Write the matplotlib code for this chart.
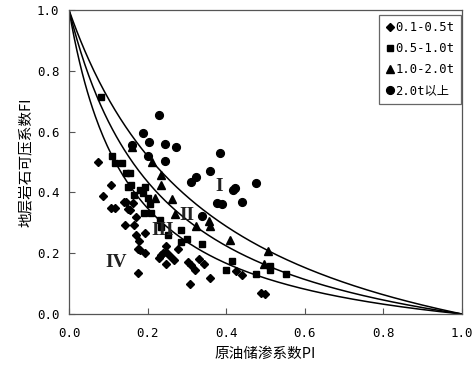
import matplotlib.pyplot as plt
import numpy as np

plt.rcParams['font.family'] = ['Noto Sans CJK SC', 'DejaVu Sans']
MONO = ['DejaVu Sans Mono', 'Noto Sans CJK SC']

# 0.1-0.5t
dia_x = [0.075, 0.106, 0.087, 0.108, 0.118, 0.139, 0.146, 0.150, 0.154, 0.163,
         0.170, 0.142, 0.165, 0.171, 0.193, 0.178, 0.176, 0.180, 0.193, 0.176,
         0.235, 0.246, 0.248, 0.246, 0.256, 0.266, 0.277, 0.303, 0.311, 0.320,
         0.309, 0.332, 0.343, 0.360, 0.424, 0.439, 0.489, 0.498, 0.228, 0.240]
dia_y = [0.499, 0.424, 0.389, 0.349, 0.349, 0.367, 0.369, 0.347, 0.342, 0.364,
         0.320, 0.292, 0.292, 0.259, 0.265, 0.241, 0.215, 0.210, 0.201, 0.135,
         0.193, 0.223, 0.204, 0.166, 0.190, 0.177, 0.215, 0.171, 0.160, 0.144,
         0.100, 0.182, 0.164, 0.119, 0.142, 0.127, 0.070, 0.065, 0.185, 0.200]

# 0.5-1.0t
sq_x = [0.082, 0.109, 0.116, 0.135, 0.144, 0.154, 0.150, 0.158, 0.165, 0.180,
        0.193, 0.188, 0.201, 0.205, 0.190, 0.209, 0.231, 0.235, 0.252, 0.286,
        0.286, 0.301, 0.339, 0.400, 0.416, 0.477, 0.511, 0.511, 0.551]
sq_y = [0.715, 0.520, 0.498, 0.498, 0.465, 0.465, 0.419, 0.424, 0.391, 0.408,
        0.419, 0.397, 0.380, 0.362, 0.331, 0.331, 0.309, 0.287, 0.259, 0.276,
        0.237, 0.248, 0.230, 0.146, 0.175, 0.131, 0.158, 0.144, 0.131]

# 1.0-2.0t
tri_x = [0.161, 0.211, 0.235, 0.235, 0.263, 0.270, 0.324, 0.356, 0.359, 0.409,
         0.506, 0.497, 0.218]
tri_y = [0.550, 0.499, 0.457, 0.426, 0.378, 0.329, 0.289, 0.307, 0.289, 0.245,
         0.208, 0.166, 0.380]

# 2.0t以上
cir_x = [0.228, 0.188, 0.204, 0.244, 0.273, 0.161, 0.201, 0.244, 0.383, 0.360,
         0.310, 0.324, 0.417, 0.422, 0.476, 0.377, 0.390, 0.439, 0.338]
cir_y = [0.653, 0.597, 0.565, 0.559, 0.548, 0.555, 0.520, 0.504, 0.531, 0.469,
         0.434, 0.451, 0.408, 0.413, 0.432, 0.366, 0.362, 0.368, 0.323]

# boundary curves FI = (1 - PI) / (1 + k * PI)
curve_k = [2.7, 4.2, 6.5]

zones = ['I', 'II', 'III', 'IV']
zone_x = [0.382, 0.299, 0.239, 0.120]
zone_y = [0.419, 0.325, 0.276, 0.168]

fig = plt.figure(figsize=(4.74, 3.65), dpi=100)
ax = fig.add_axes([0.1456, 0.1397, 0.8291, 0.8329])

pi = np.linspace(0, 1, 300)
for k in curve_k:
    ax.plot(pi, (1 - pi) / (1 + k * pi), color='black', lw=1.1)

ax.plot(dia_x, dia_y, 'D', color='black', ms=3.7, ls='none', label='0.1-0.5t')
ax.plot(sq_x, sq_y, 's', color='black', ms=4.6, ls='none', label='0.5-1.0t')
ax.plot(tri_x, tri_y, '^', color='black', ms=5.4, ls='none', label='1.0-2.0t')
ax.plot(cir_x, cir_y, 'o', color='black', ms=5.6, ls='none', label='2.0t以上')

for z, x, y in zip(zones, zone_x, zone_y):
    ax.text(x, y, z, family='Liberation Serif', fontsize=14, fontweight='bold',
            ha='center', va='center', color='#222222')

ax.set_xlim(0, 1)
ax.set_ylim(0, 1)
ax.set_xticks(np.arange(0, 1.01, 0.2))
ax.set_yticks(np.arange(0, 1.01, 0.2))
ax.xaxis.set_major_formatter(plt.FormatStrFormatter('%.1f'))
ax.yaxis.set_major_formatter(plt.FormatStrFormatter('%.1f'))
ax.tick_params(direction='in', length=4, width=0.8, labelsize=9, color='#555555')
ax.tick_params(axis='x', pad=9)
ax.tick_params(axis='y', pad=7)
for lab in ax.get_xticklabels() + ax.get_yticklabels():
    lab.set_family(MONO)
for s in ax.spines.values():
    s.set_color('#555555')
    s.set_linewidth(0.9)

ax.set_xlabel('原油储渗系数PI', fontsize=10.5, labelpad=5)
ax.set_ylabel('地层岩石可压系数FI', fontsize=10.5, labelpad=3)

leg = ax.legend(loc='upper right', bbox_to_anchor=(0.997, 0.985),
                prop={'family': MONO, 'size': 8.8},
                handlelength=0.6, handletextpad=0.15, borderpad=0.55,
                labelspacing=0.65, fancybox=False, framealpha=1, borderaxespad=0)
leg.get_frame().set_edgecolor('#666666')
leg.get_frame().set_linewidth(0.9)

fig.savefig('out.png', dpi=100)
